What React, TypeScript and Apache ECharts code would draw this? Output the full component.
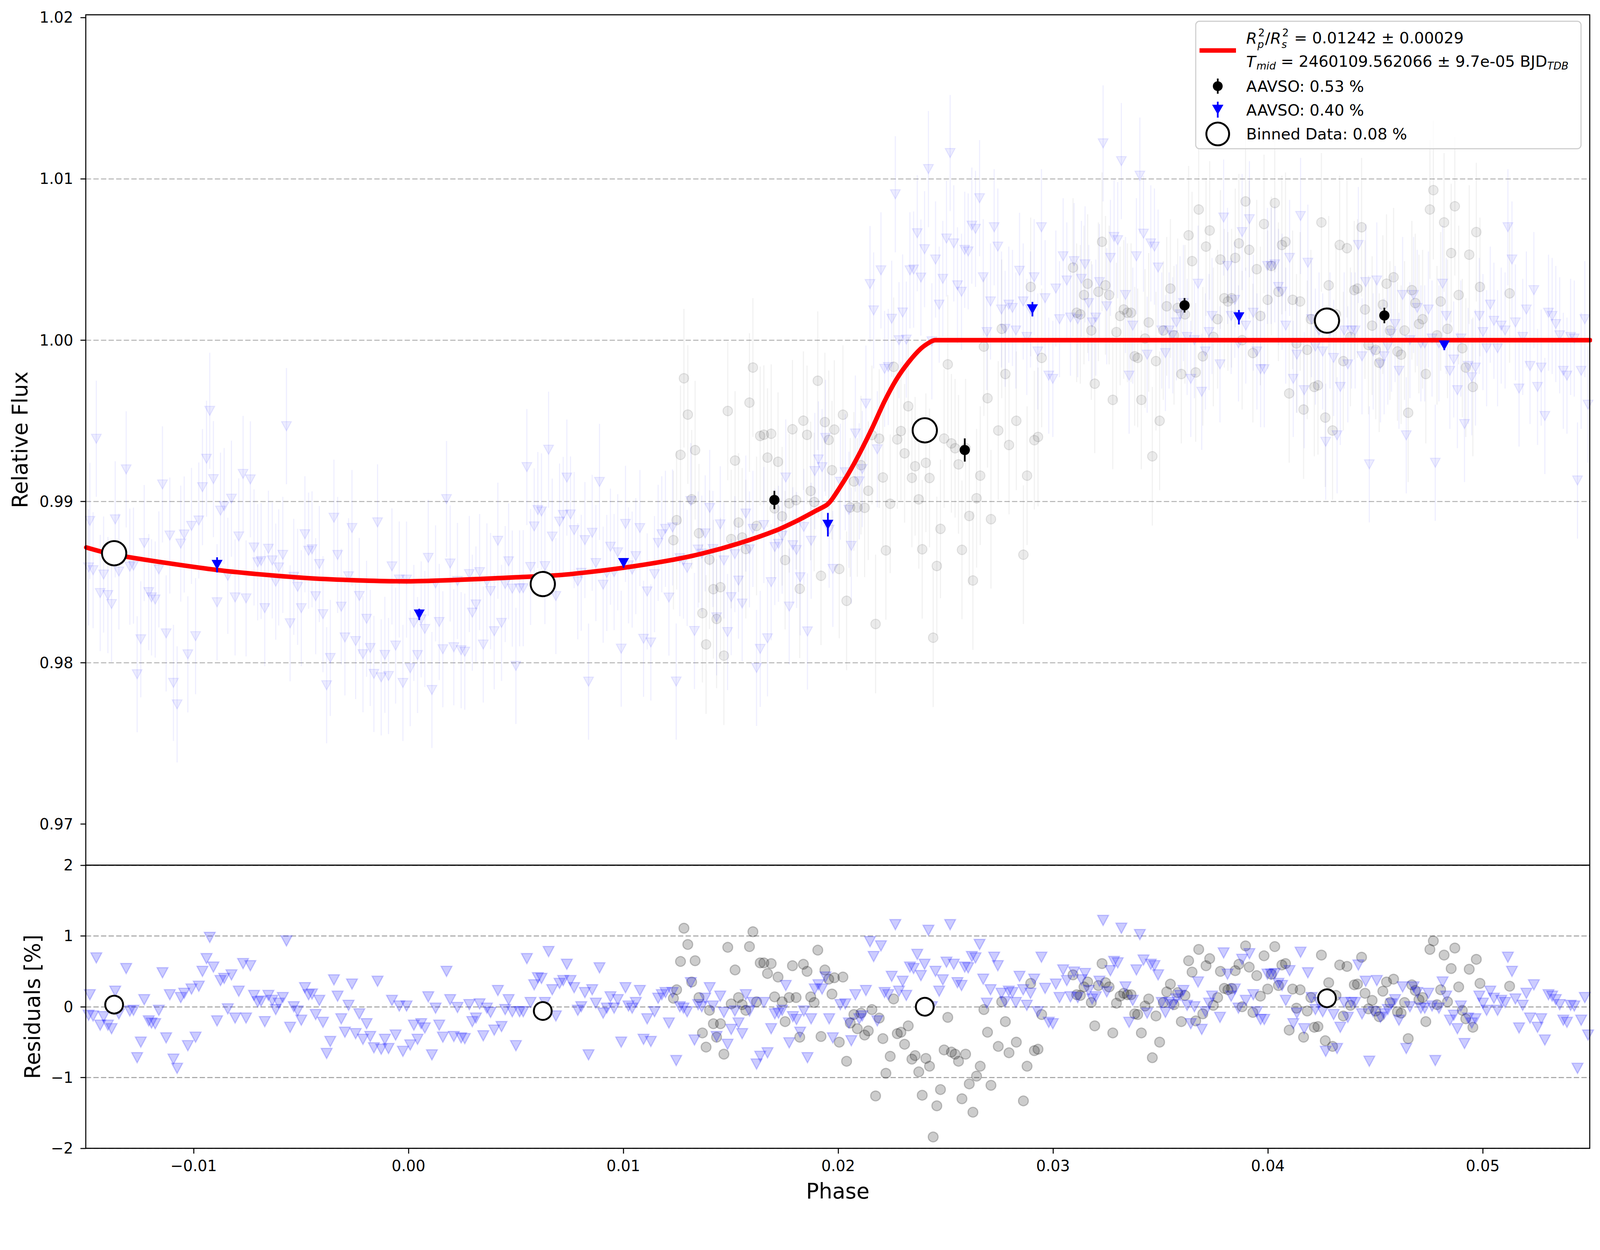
import React, { useEffect, useRef } from "react";
import * as echarts from "echarts";

// ---------- axes ----------
const X_MIN = -0.01502;
const X_MAX = 0.05498;
const FLUX_MIN = 0.96745;
const FLUX_MAX = 1.02017;
const RES_MIN = -2;
const RES_MAX = 2;
const xTicks = [-0.01, 0, 0.01, 0.02, 0.03, 0.04, 0.05];
const fluxTicks = [0.97, 0.98, 0.99, 1.0, 1.01, 1.02];
const resTicks = [-2, -1, 0, 1, 2];

// ---------- fitted transit model (phase, relative flux) ----------
const modelCurve: number[][] = [
  [-0.0150, 0.98715], [-0.0137, 0.98670], [-0.0089, 0.98575], [-0.0046, 0.98524],
  [-0.0002, 0.98505], [0.0057, 0.98534], [0.0075, 0.98549], [0.0100, 0.98589],
  [0.0120, 0.98631], [0.0137, 0.98678], [0.0154, 0.98741], [0.0171, 0.98820],
  [0.0182, 0.98888], [0.0190, 0.98945], [0.01945, 0.98977], [0.01968, 0.99008],
  [0.0200, 0.99071], [0.02047, 0.99171], [0.02103, 0.99307], [0.0216, 0.99460],
  [0.02216, 0.99622], [0.02272, 0.99759], [0.02328, 0.99864], [0.02385, 0.99948],
  [0.0243, 0.99990], [0.02452, 1.0], [0.0550, 1.0],
];

// ---------- AAVSO (blue, 0.40 %) : phase, residual [%] ----------
const blueResid: number[][] = [
  [-0.01483, 0.17], [-0.01489, -0.12], [-0.01468, -0.13], [-0.01453, 0.69], [-0.01435, -0.26],
  [-0.01419, -0.14], [-0.01399, -0.26], [-0.01382, -0.31], [-0.01365, 0.22], [-0.01348, -0.10],
  [-0.01314, 0.54], [-0.01297, -0.06], [-0.01280, -0.05], [-0.01263, -0.72], [-0.01246, -0.50],
  [-0.01230, 0.10], [-0.01209, -0.20], [-0.01196, -0.23], [-0.01179, -0.24], [-0.01162, -0.05],
  [-0.01145, 0.48], [-0.01128, -0.44], [-0.01111, 0.17], [-0.01094, -0.74], [-0.01077, -0.87],
  [-0.01060, 0.13], [-0.01044, 0.19], [-0.01027, -0.55], [-0.01010, 0.25], [-0.00991, -0.43],
  [-0.00976, 0.29], [-0.00959, 0.50], [-0.00940, 0.68], [-0.00925, 0.98], [-0.00908, 0.56],
  [-0.00891, -0.20], [-0.00875, 0.37], [-0.00858, 0.40], [-0.00841, -0.03], [-0.00824, 0.45],
  [-0.00807, -0.16], [-0.00790, 0.22], [-0.00770, 0.61], [-0.00756, -0.16], [-0.00736, 0.58],
  [-0.00719, 0.16], [-0.00702, 0.07], [-0.00686, 0.08], [-0.00669, -0.21], [-0.00652, 0.16],
  [-0.00634, 0.09], [-0.00618, -0.04], [-0.00604, 0.05], [-0.00585, 0.13], [-0.00568, 0.93],
  [-0.00551, -0.29], [-0.00534, 0.00], [-0.00516, -0.06], [-0.00499, -0.19], [-0.00482, 0.27],
  [-0.00465, 0.17], [-0.00449, 0.18], [-0.00432, -0.11], [-0.00415, 0.09], [-0.00398, -0.22],
  [-0.00381, -0.66], [-0.00364, -0.49], [-0.00347, 0.38], [-0.00330, 0.15], [-0.00313, -0.17],
  [-0.00296, -0.36], [-0.00279, 0.02], [-0.00263, 0.32], [-0.00246, -0.38], [-0.00229, -0.10],
  [-0.00212, -0.46], [-0.00195, -0.24], [-0.00178, -0.42], [-0.00161, -0.58], [-0.00144, 0.36],
  [-0.00127, -0.60], [-0.00110, -0.46], [-0.00093, -0.59], [-0.00077, 0.09], [-0.00060, -0.40],
  [-0.00043, 0.01], [-0.00026, -0.63], [-0.00009, 0.01], [0.00008, -0.54], [0.00025, -0.26],
  [0.00042, -0.46], [0.00059, -0.24], [0.00076, -0.30], [0.00092, 0.14], [0.00109, -0.68],
  [0.00126, -0.02], [0.00143, -0.26], [0.00160, -0.43], [0.00177, 0.50], [0.00194, 0.10],
  [0.00211, -0.42], [0.00228, -0.01], [0.00245, -0.44], [0.00262, -0.45],
  [0.00283, 0.03], [0.00297, -0.21], [0.00314, -0.16], [0.00331, 0.04], [0.00348, -0.41],
  [0.00365, -0.02], [0.00382, -0.08], [0.00399, -0.33], [0.00416, 0.23], [0.00433, -0.28],
  [0.00450, -0.04], [0.00466, 0.10], [0.00483, -0.07], [0.00500, -0.55], [0.00517, -0.07],
  [0.00534, -0.07], [0.00551, 0.68], [0.00568, 0.06], [0.00585, 0.31], [0.00602, 0.41],
  [0.00619, 0.40], [0.00635, 0.06], [0.00652, 0.78], [0.00669, 0.24], [0.00686, -0.13],
  [0.00703, 0.33], [0.00720, 0.37], [0.00737, 0.60], [0.00754, 0.37], [0.00771, 0.27],
  [0.00788, -0.05], [0.00804, 0.00], [0.00821, 0.20], [0.00838, -0.68], [0.00855, 0.24],
  [0.00872, 0.05], [0.00889, 0.55], [0.00906, -0.09], [0.00923, -0.02], [0.00940, 0.14],
  [0.00957, -0.02], [0.00974, 0.10], [0.00990, -0.50], [0.01010, 0.27], [0.01024, 0.01],
  [0.01041, -0.02], [0.01058, 0.06], [0.01077, 0.23], [0.01094, -0.46], [0.01111, -0.17],
  [0.01128, -0.49], [0.01145, -0.07], [0.01162, 0.12], [0.01179, 0.17], [0.01196, 0.20],
  [0.01212, -0.23], [0.01229, 0.20], [0.01246, -0.76], [0.01263, 0.00], [0.01280, -0.02],
  [0.01297, -0.07], [0.01314, 0.34], [0.01331, -0.47], [0.01348, 0.03], [0.01365, 0.00],
  [0.01381, 0.12], [0.01402, 0.27], [0.01417, 0.01], [0.01434, -0.42], [0.01451, 0.15],
  [0.01468, -0.08], [0.01485, -0.53], [0.01502, -0.32], [0.01519, -0.06], [0.01536, -0.23],
  [0.01553, -0.38], [0.01570, 0.17], [0.01587, -0.06], [0.01603, 0.06], [0.01620, -0.81],
  [0.01637, -0.70], [0.01654, 0.06], [0.01671, -0.65], [0.01688, -0.31], [0.01705, -0.10],
  [0.01722, -0.09], [0.01739, -0.05], [0.01756, 0.30], [0.01772, -0.51], [0.01789, -0.14],
  [0.01806, -0.18], [0.01823, -0.36], [0.01840, -0.06], [0.01857, -0.72], [0.01874, -0.17],
  [0.01891, 0.25], [0.01908, 0.31], [0.01925, 0.25], [0.01941, 0.42], [0.01958, -0.17],
  [0.01975, -0.44],
  [0.02010, 0.03], [0.02033, 0.04], [0.02050, -0.23], [0.02061, -0.48], [0.02080, 0.17],
  [0.02098, -0.17], [0.02112, -0.13], [0.02129, 0.23], [0.02148, 0.92], [0.02165, 0.71],
  [0.02182, -0.20], [0.02199, 0.86], [0.02216, 0.20], [0.02233, 0.17], [0.02249, 0.43],
  [0.02266, 1.16], [0.02283, 0.22], [0.02300, 0.36], [0.02317, 0.16], [0.02334, 0.56],
  [0.02351, 0.54], [0.02368, 0.74], [0.02385, 0.44], [0.02402, 0.60], [0.02420, 1.08],
  [0.02436, 0.00], [0.02453, 0.50], [0.02470, 0.22], [0.02487, 0.38], [0.02504, 0.63],
  [0.02521, 1.16], [0.02538, 0.60], [0.02555, 0.34], [0.02574, 0.30], [0.02589, 0.56],
  [0.02605, 0.55], [0.02622, 0.71], [0.02639, 0.69], [0.02658, 0.88], [0.02675, 0.39],
  [0.02692, 0.05], [0.02709, 0.24], [0.02726, 0.70], [0.02743, 0.58], [0.02760, 0.19],
  [0.02777, 0.07], [0.02794, 0.22], [0.02811, 0.20], [0.02827, 0.06], [0.02844, 0.43],
  [0.02861, 0.24], [0.02878, 0.02], [0.02895, 0.19], [0.02912, 0.39], [0.02929, -0.07],
  [0.02946, 0.70], [0.02963, 0.26], [0.02980, -0.22], [0.02999, -0.24], [0.03013, 0.32],
  [0.03030, 0.13], [0.03047, 0.52], [0.03064, 0.37], [0.03081, 0.14], [0.03098, 0.49],
  [0.03115, 0.13], [0.03132, 0.38], [0.03149, 0.47], [0.03166, 0.23], [0.03182, 0.11],
  [0.03199, 0.14], [0.03216, 0.36], [0.03233, 1.22], [0.03250, 0.21], [0.03267, 0.51],
  [0.03284, 0.64], [0.03301, 0.62], [0.03318, 1.11], [0.03337, 0.28], [0.03354, -0.22],
  [0.03371, 0.09], [0.03388, 0.52], [0.03404, 1.02], [0.03421, 0.66], [0.03438, -0.09],
  [0.03455, 0.60], [0.03472, 0.58], [0.03489, 0.45], [0.03506, 0.06], [0.03523, -0.08],
  [0.03540, 0.06], [0.03557, 0.03], [0.03574, 0.11], [0.03591, 0.16], [0.03607, 0.23],
  [0.03624, 0.02], [0.03641, -0.24], [0.03658, 0.00], [0.03675, 0.35], [0.03692, -0.32],
  [0.03709, -0.07], [0.03726, 0.05], [0.03740, 0.15],
  [0.03777, -0.15], [0.03794, 0.76], [0.03812, 0.46], [0.03829, 0.15], [0.03846, 0.25],
  [0.03863, -0.02], [0.03880, 0.67], [0.03897, 0.09], [0.03914, 0.75], [0.03932, 0.17],
  [0.03949, -0.07], [0.03966, -0.18], [0.03983, -0.18], [0.03998, 0.46], [0.04015, 0.46],
  [0.04032, 0.47], [0.04049, 0.33], [0.04066, 0.30], [0.04083, 0.09], [0.04101, 0.51],
  [0.04118, -0.24], [0.04135, -0.09], [0.04152, 0.77], [0.04169, -0.31], [0.04186, 0.48],
  [0.04203, 0.13], [0.04221, -0.04], [0.04238, 0.06], [0.04255, -0.07], [0.04269, -0.63],
  [0.04289, 0.06], [0.04306, -0.11], [0.04322, -0.59], [0.04337, -0.29], [0.04355, 0.06],
  [0.04372, -0.15], [0.04389, 0.06], [0.04406, 0.06], [0.04421, 0.59], [0.04438, -0.10],
  [0.04455, 0.36], [0.04472, -0.77], [0.04490, -0.07], [0.04507, 0.37], [0.04524, -0.15],
  [0.04541, -0.10], [0.04558, -0.04], [0.04575, 0.04], [0.04592, 0.10], [0.04610, -0.19],
  [0.04627, 0.28], [0.04644, -0.59], [0.04661, 0.00], [0.04678, 0.28], [0.04695, 0.20],
  [0.04712, -0.02], [0.04730, -0.02], [0.04747, 0.19], [0.04764, 0.01], [0.04779, -0.76],
  [0.04796, -0.02], [0.04813, 0.35], [0.04830, 0.15], [0.04847, -0.19], [0.04865, -0.12],
  [0.04882, -0.31], [0.04898, 0.01], [0.04915, -0.52], [0.04932, -0.16], [0.04949, -0.23],
  [0.04966, -0.17], [0.04984, 0.15], [0.05001, 0.05], [0.05018, -0.05], [0.05035, 0.22],
  [0.05052, 0.12], [0.05069, -0.05], [0.05086, 0.09], [0.05104, 0.06], [0.05117, 0.70],
  [0.05136, 0.50], [0.05152, 0.11], [0.05169, -0.30], [0.05186, 0.02], [0.05203, 0.19],
  [0.05220, -0.16], [0.05238, 0.31], [0.05255, -0.29], [0.05272, -0.17], [0.05289, -0.47],
  [0.05306, 0.17], [0.05323, 0.15], [0.05340, 0.10], [0.05358, 0.03], [0.05375, -0.19],
  [0.05392, -0.22], [0.05409, 0.02], [0.05426, 0.01], [0.05441, -0.87], [0.05458, -0.19],
  [0.05475, 0.13], [0.05490, -0.40],
];

// ---------- AAVSO (black, 0.53 %) : phase, residual [%] ----------
const blackResid: number[][] = [
  [0.01282, 1.11], [0.01300, 0.88], [0.01266, 0.64], [0.01334, 0.65], [0.01248, 0.24],
  [0.01233, 0.12], [0.01318, 0.35], [0.01352, 0.13], [0.01401, -0.05], [0.01419, -0.24],
  [0.01452, -0.24], [0.01368, -0.37], [0.01434, -0.43], [0.01385, -0.57], [0.01468, -0.67],
  [0.01486, 0.84], [0.01520, 0.52], [0.01502, 0.04], [0.01536, 0.13], [0.01553, 0.03],
  [0.01570, -0.05], [0.01587, 0.85], [0.01603, 1.06], [0.01620, 0.07], [0.01637, 0.62],
  [0.01654, 0.62], [0.01671, 0.47], [0.01688, 0.61], [0.01704, 0.14], [0.01720, 0.42],
  [0.01739, 0.07], [0.01753, -0.21], [0.01772, 0.13], [0.01787, 0.58], [0.01804, 0.13],
  [0.01821, -0.43], [0.01838, 0.60], [0.01855, 0.50], [0.01872, 0.14], [0.01888, 0.06],
  [0.01905, 0.80], [0.01920, -0.42], [0.01938, 0.52], [0.01956, 0.39], [0.01971, 0.18],
  [0.01982, 0.41],
  [0.02022, 0.42], [0.02005, -0.50], [0.02039, -0.77], [0.02056, -0.23], [0.02073, -0.11],
  [0.02089, -0.31], [0.02106, -0.09], [0.02123, -0.40], [0.02140, -0.34], [0.02157, -0.04],
  [0.02174, -1.26], [0.02191, -0.16], [0.02208, -0.45], [0.02222, -0.94], [0.02242, -0.70],
  [0.02258, 0.11], [0.02275, -0.38], [0.02292, -0.36], [0.02309, -0.53], [0.02326, -0.27],
  [0.02343, -0.74], [0.02358, -0.69], [0.02375, -0.92], [0.02391, -1.25], [0.02408, -0.73],
  [0.02425, -0.84], [0.02442, -1.84], [0.02459, -1.40], [0.02476, -1.17], [0.02493, -0.61],
  [0.02510, -0.15], [0.02527, -0.64], [0.02544, -0.67], [0.02560, -0.77], [0.02576, -1.30],
  [0.02593, -0.67], [0.02610, -1.09], [0.02627, -1.49], [0.02644, -0.98], [0.02661, -0.84],
  [0.02678, -0.04], [0.02695, -0.36], [0.02711, -1.11], [0.02745, -0.56], [0.02761, 0.07],
  [0.02778, -0.21], [0.02795, -0.65], [0.02829, -0.50], [0.02862, -1.33], [0.02879, -0.84],
  [0.02896, 0.33], [0.02913, -0.62], [0.02930, -0.60], [0.02947, -0.11], [0.03093, 0.45],
  [0.03110, 0.17], [0.03127, 0.16], [0.03144, 0.28], [0.03161, 0.35], [0.03178, 0.06],
  [0.03194, -0.27], [0.03211, 0.30], [0.03228, 0.61], [0.03244, 0.34], [0.03261, 0.28],
  [0.03278, -0.37], [0.03295, 0.05], [0.03312, 0.15], [0.03329, 0.19], [0.03346, 0.17],
  [0.03363, 0.17], [0.03380, -0.10], [0.03394, -0.11], [0.03411, -0.37], [0.03428, 0.01],
  [0.03445, 0.11], [0.03462, -0.72], [0.03479, -0.13], [0.03496, -0.50], [0.03513, 0.06],
  [0.03529, 0.21], [0.03546, 0.32], [0.03563, 0.03], [0.03580, 0.20], [0.03597, -0.21],
  [0.03614, 0.16], [0.03631, 0.65], [0.03647, 0.49], [0.03664, -0.20], [0.03678, 0.81],
  [0.03697, -0.10], [0.03712, 0.58], [0.03729, 0.68], [0.03746, 0.02],
  [0.03766, 0.13], [0.03779, 0.50], [0.03797, 0.26], [0.03814, 0.24], [0.03831, 0.26],
  [0.03848, 0.51], [0.03865, 0.60], [0.03880, 0.00], [0.03896, 0.86], [0.03913, 0.56],
  [0.03930, -0.08], [0.03948, 0.44], [0.03965, 0.15], [0.03982, 0.72], [0.03999, 0.25],
  [0.04016, 0.46], [0.04032, 0.85], [0.04049, 0.30], [0.04065, 0.59], [0.04082, 0.61],
  [0.04099, -0.33], [0.04115, 0.25], [0.04133, -0.02], [0.04150, 0.24], [0.04166, -0.43],
  [0.04183, -0.06], [0.04200, 0.13], [0.04216, -0.29], [0.04233, -0.28], [0.04249, 0.73],
  [0.04267, -0.48], [0.04283, 0.34], [0.04301, -0.56], [0.04317, 0.16], [0.04334, 0.59],
  [0.04351, -0.13], [0.04368, 0.57], [0.04384, 0.02], [0.04402, 0.31], [0.04417, 0.32],
  [0.04436, 0.70], [0.04452, 0.19], [0.04468, -0.03], [0.04485, 0.09], [0.04502, -0.06],
  [0.04518, -0.14], [0.04535, 0.22], [0.04552, 0.35], [0.04568, 0.06], [0.04585, 0.39],
  [0.04603, -0.07], [0.04620, -0.09], [0.04636, 0.06], [0.04653, -0.45], [0.04670, 0.31],
  [0.04686, 0.23], [0.04703, 0.10], [0.04720, 0.13], [0.04735, -0.21], [0.04754, 0.81],
  [0.04770, 0.93], [0.04787, 0.03], [0.04804, 0.24], [0.04820, 0.73], [0.04836, 0.07],
  [0.04853, 0.54], [0.04870, 0.83], [0.04888, 0.28], [0.04905, -0.05], [0.04921, -0.17],
  [0.04937, 0.53], [0.04954, -0.29], [0.04970, 0.67], [0.04987, 0.33], [0.05125, 0.29],
];

// typical 1-sigma flux error of a single point
const blueErr = 0.0036;
const blackErr = 0.0043;

// ---------- binned points ----------
const blackBinPhase = [0.01703, 0.02589, 0.03612, 0.04542];
const blackBinFlux = [0.99009, 0.99319, 1.00216, 1.00153];
const blackBinErr = [0.00057, 0.00072, 0.00045, 0.00048];
const blueBinPhase = [-0.00891, 0.0005, 0.01001, 0.01952, 0.02904, 0.03865, 0.04821];
const blueBinFlux = [0.98607, 0.983, 0.98619, 0.98856, 1.00192, 1.00142, 0.99968];
const blueBinErr = [0.00047, 0.00035, 0.0003, 0.00073, 0.00045, 0.00045, 0.0003];
const binPhase = [-0.0137, 0.00625, 0.02403, 0.04275];
const binFlux = [0.98679, 0.98488, 0.99441, 1.00121];
const binResid = [0.03, -0.06, 0.0, 0.12];

// ---------- texts ----------
const legendPlain = ["AAVSO: 0.53 %", "AAVSO: 0.40 %", "Binned Data: 0.08 %"];

const FONT = '"DejaVu Sans", "Noto Sans", sans-serif';
const PAGE_W = 4215;
const PAGE_H = 3201;

function modelAt(p: number): number {
  const c = modelCurve;
  if (p <= c[0][0]) return c[0][1];
  for (let i = 1; i < c.length; i++) {
    if (p <= c[i][0]) {
      const t = (p - c[i - 1][0]) / (c[i][0] - c[i - 1][0]);
      return c[i - 1][1] + t * (c[i][1] - c[i - 1][1]);
    }
  }
  return c[c.length - 1][1];
}

function minusFmt(v: number, d: number): string {
  const s = Math.abs(v).toFixed(d);
  return v < -1e-9 ? "\u2212" + s : s;
}

let measureCtx: CanvasRenderingContext2D | null = null;
function tw(text: string, font: string): number {
  if (!measureCtx) measureCtx = document.createElement("canvas").getContext("2d");
  if (!measureCtx) return text.length * 20;
  measureCtx.font = font;
  return measureCtx.measureText(text).width;
}

function errBarSeries(name: string, xi: number, data: number[][], color: string, width: number, z: number) {
  return {
    name,
    type: "custom",
    xAxisIndex: xi,
    yAxisIndex: xi,
    silent: true,
    clip: true,
    z,
    encode: { x: 0, y: 1 },
    data,
    renderItem: (_params: any, api: any) => {
      const x = api.value(0);
      const y = api.value(1);
      const e = api.value(2);
      const a = api.coord([x, y - e]);
      const b = api.coord([x, y + e]);
      return {
        type: "line",
        shape: { x1: a[0], y1: a[1], x2: b[0], y2: b[1] },
        style: { stroke: color, lineWidth: width },
      };
    },
  };
}

function txt(text: string, x: number, y: number, size: number, italic: boolean, align = "left") {
  return {
    type: "text",
    z: 101,
    style: {
      text,
      x,
      y,
      font: `${italic ? "italic " : ""}${size}px ${FONT}`,
      fontSize: size,
      fontStyle: italic ? "italic" : "normal",
      fontFamily: FONT,
      fill: "#000",
      align,
      textAlign: align,
      verticalAlign: "middle",
      textVerticalAlign: "middle",
    },
  };
}

function buildLegend(): any[] {
  const els: any[] = [];
  const bx = 3150, by = 56, bw = 1015, bh = 336;
  els.push({
    type: "rect",
    z: 100,
    shape: { x: bx, y: by, width: bw, height: bh, r: 10 },
    style: { fill: "rgba(255,255,255,0.8)", stroke: "#cccccc", lineWidth: 2.7 },
  });
  const mx = 3208;
  els.push({
    type: "line",
    z: 101,
    shape: { x1: 3160, y1: 133, x2: 3256, y2: 133 },
    style: { stroke: "#ff0000", lineWidth: 12 },
  });
  els.push({ type: "line", z: 101, shape: { x1: mx, y1: 207, x2: mx, y2: 247 }, style: { stroke: "#000", lineWidth: 4.5 } });
  els.push({ type: "circle", z: 102, shape: { cx: mx, cy: 227, r: 13 }, style: { fill: "#000" } });
  els.push({ type: "line", z: 101, shape: { x1: mx, y1: 268, x2: mx, y2: 310 }, style: { stroke: "#0000ff", lineWidth: 4.5 } });
  els.push({
    type: "polygon",
    z: 102,
    shape: { points: [[mx - 15, 276], [mx + 15, 276], [mx, 302]] },
    style: { fill: "#0000ff" },
  });
  els.push({ type: "circle", z: 102, shape: { cx: mx, cy: 353, r: 30 }, style: { fill: "#fff", stroke: "#000", lineWidth: 5 } });

  const tx = 3283;
  let x = tx;
  const big = 41, small = 27;
  const supY = 86, subY = 117;
  els.push(txt("R", x, 101, big, true));
  x += tw("R", `italic ${big}px ${FONT}`);
  els.push(txt("2", x + 3, supY, small, false));
  els.push(txt("p", x + 1, subY, small, true));
  x += Math.max(tw("p", `italic ${small}px ${FONT}`) + 1, tw("2", `${small}px ${FONT}`) + 3) + 1;
  els.push(txt("/", x, 101, big, false));
  x += tw("/", `${big}px ${FONT}`);
  els.push(txt("R", x, 101, big, true));
  x += tw("R", `italic ${big}px ${FONT}`);
  els.push(txt("2", x + 3, supY, small, false));
  els.push(txt("s", x + 1, subY, small, true));
  x += Math.max(tw("s", `italic ${small}px ${FONT}`) + 1, tw("2", `${small}px ${FONT}`) + 3) + 1;
  els.push(txt(" = 0.01242 \u00b1 0.00029", x, 100, big, false));

  x = tx;
  els.push(txt("T", x, 163, big, true));
  x += tw("T", `italic ${big}px ${FONT}`) + 2;
  els.push(txt("mid", x, 174, small, true));
  x += tw("mid", `italic ${small}px ${FONT}`);
  const mainL2 = " = 2460109.562066 \u00b1 9.7e-05 BJD";
  els.push(txt(mainL2, x, 162, big, false));
  x += tw(mainL2, `${big}px ${FONT}`);
  els.push(txt("TDB", x, 174, small, true));

  els.push(txt(legendPlain[0], tx, 227, big, false));
  els.push(txt(legendPlain[1], tx, 290, big, false));
  els.push(txt(legendPlain[2], tx, 353, big, false));
  return els;
}

function pageScale(): number {
  if (typeof window === "undefined") return 1;
  const w = window.innerWidth || PAGE_W;
  const h = window.innerHeight || PAGE_H;
  return Math.min(1, w / PAGE_W, h / PAGE_H);
}

export default function App() {
  const ref = useRef<HTMLDivElement>(null);
  const s = pageScale();

  useEffect(() => {
    document.body.style.margin = "0";
    document.body.style.overflow = "hidden";
    if (!ref.current) return;
    const chart = echarts.init(ref.current, undefined, { renderer: "svg", width: PAGE_W, height: PAGE_H });

    const blueTop = blueResid.map(([p, r]) => [p, modelAt(p) + r / 100, blueErr]);
    const blackTop = blackResid.map(([p, r]) => [p, modelAt(p) + r / 100, blackErr]);
    const blackBin = blackBinPhase.map((p, i) => [p, blackBinFlux[i], blackBinErr[i]]);
    const blueBin = blueBinPhase.map((p, i) => [p, blueBinFlux[i], blueBinErr[i]]);
    const binTop = binPhase.map((p, i) => [p, binFlux[i]]);
    const binRes = binPhase.map((p, i) => [p, binResid[i]]);

    const tickStyle = { show: true, inside: false, length: 14, lineStyle: { color: "#000", width: 2.7 } };
    const labelBase = { color: "#000", fontSize: 40, fontFamily: FONT };
    const noLine = { show: false, onZero: false };

    const option: any = {
      animation: false,
      backgroundColor: "#ffffff",
      grid: [
        { left: 226, top: 39, width: 3962, height: 2241, show: true, borderColor: "#000", borderWidth: 2.7, backgroundColor: "transparent", containLabel: false, outerBoundsMode: "none", z: 10 },
        { left: 226, top: 2280, width: 3962, height: 746, show: true, borderColor: "#000", borderWidth: 2.7, backgroundColor: "transparent", containLabel: false, outerBoundsMode: "none", z: 10 },
      ],
      xAxis: [
        {
          type: "value", gridIndex: 0, min: X_MIN, max: X_MAX, position: "bottom",
          axisLine: noLine, axisTick: { show: false }, axisLabel: { show: false }, splitLine: { show: false },
        },
        {
          type: "value", gridIndex: 1, min: X_MIN, max: X_MAX, position: "bottom",
          axisLine: noLine,
          axisTick: { ...tickStyle, customValues: xTicks },
          axisLabel: { ...labelBase, margin: 26, customValues: xTicks, formatter: (v: number) => minusFmt(v, 2) },
          splitLine: { show: false },
        },
      ],
      yAxis: [
        {
          type: "value", gridIndex: 0, min: FLUX_MIN, max: FLUX_MAX, position: "left",
          axisLine: noLine,
          axisTick: { ...tickStyle, customValues: fluxTicks },
          axisLabel: { ...labelBase, margin: 33, customValues: fluxTicks, formatter: (v: number) => v.toFixed(2) },
          splitLine: { show: true, showMinLine: false, showMaxLine: false, lineStyle: { color: "#b3b3b3", width: 2.7, type: [14, 6] } },
        },
        {
          type: "value", gridIndex: 1, min: RES_MIN, max: RES_MAX, interval: 1, position: "left",
          axisLine: noLine,
          axisTick: { ...tickStyle, customValues: resTicks },
          axisLabel: { ...labelBase, margin: 33, customValues: resTicks, formatter: (v: number) => minusFmt(v, 0) },
          splitLine: { show: true, lineStyle: { color: "#a6a6a6", width: 2.7, type: [14, 6] } },
        },
      ],
      graphic: [
        {
          type: "text", z: 50,
          rotation: Math.PI / 2, x: 52, y: 1159,
          style: { text: "Relative Flux", font: `56px ${FONT}`, fontSize: 56, fontFamily: FONT, fill: "#000", align: "center", textAlign: "center", verticalAlign: "middle", textVerticalAlign: "middle" },
        },
        {
          type: "text", z: 50,
          rotation: Math.PI / 2, x: 85, y: 2653,
          style: { text: "Residuals [%]", font: `56px ${FONT}`, fontSize: 56, fontFamily: FONT, fill: "#000", align: "center", textAlign: "center", verticalAlign: "middle", textVerticalAlign: "middle" },
        },
        {
          type: "text", z: 50, x: 2207, y: 3139,
          style: { text: "Phase", font: `56px ${FONT}`, fontSize: 56, fontFamily: FONT, fill: "#000", align: "center", textAlign: "center", verticalAlign: "middle", textVerticalAlign: "middle" },
        },
        ...buildLegend(),
      ],
      series: [
        errBarSeries("blue errors", 0, blueTop, "rgba(0,0,255,0.065)", 3, 1),
        errBarSeries("black errors", 0, blackTop, "rgba(0,0,0,0.055)", 3, 1),
        {
          name: "AAVSO 0.40 faint", type: "scatter", xAxisIndex: 0, yAxisIndex: 0, z: 2, silent: true,
          symbol: "triangle", symbolRotate: 180, symbolSize: [26, 24],
          itemStyle: { color: "rgba(0,0,255,0.07)", borderColor: "rgba(0,0,255,0.09)", borderWidth: 2.5, opacity: 1 },
          data: blueTop.map((d) => [d[0], d[1]]),
        },
        {
          name: "AAVSO 0.53 faint", type: "scatter", xAxisIndex: 0, yAxisIndex: 0, z: 2, silent: true,
          symbol: "circle", symbolSize: 25,
          itemStyle: { color: "rgba(0,0,0,0.08)", borderColor: "rgba(0,0,0,0.1)", borderWidth: 2.5, opacity: 1 },
          data: blackTop.map((d) => [d[0], d[1]]),
        },
        {
          name: "model", type: "line", xAxisIndex: 0, yAxisIndex: 0, z: 3, silent: true,
          showSymbol: false, smooth: 0.25,
          lineStyle: { color: "#ff0000", width: 12, join: "round", cap: "round" },
          data: modelCurve,
        },
        errBarSeries("black bin errors", 0, blackBin, "#000000", 4.5, 4),
        errBarSeries("blue bin errors", 0, blueBin, "#0000ff", 4.5, 4),
        {
          name: "AAVSO: 0.53 %", type: "scatter", xAxisIndex: 0, yAxisIndex: 0, z: 5, silent: true,
          symbol: "circle", symbolSize: 27, itemStyle: { color: "#000", opacity: 1 },
          data: blackBin.map((d) => [d[0], d[1]]),
        },
        {
          name: "AAVSO: 0.40 %", type: "scatter", xAxisIndex: 0, yAxisIndex: 0, z: 5, silent: true,
          symbol: "triangle", symbolRotate: 180, symbolSize: [29, 26], itemStyle: { color: "#0000ff", opacity: 1 },
          data: blueBin.map((d) => [d[0], d[1]]),
        },
        {
          name: "Binned Data: 0.08 %", type: "scatter", xAxisIndex: 0, yAxisIndex: 0, z: 6, silent: true,
          symbol: "circle", symbolSize: 64,
          itemStyle: { color: "#ffffff", borderColor: "#000", borderWidth: 5, opacity: 1 },
          data: binTop,
        },
        {
          name: "res black", type: "scatter", xAxisIndex: 1, yAxisIndex: 1, z: 2, silent: true,
          symbol: "circle", symbolSize: 26,
          itemStyle: { color: "rgba(0,0,0,0.2)", borderColor: "rgba(0,0,0,0.22)", borderWidth: 3, opacity: 1 },
          data: blackResid,
        },
        {
          name: "res blue", type: "scatter", xAxisIndex: 1, yAxisIndex: 1, z: 2, silent: true,
          symbol: "triangle", symbolRotate: 180, symbolSize: [29, 27],
          itemStyle: { color: "rgba(0,0,255,0.2)", borderColor: "rgba(0,0,255,0.2)", borderWidth: 3, opacity: 1 },
          data: blueResid,
        },
        {
          name: "res binned", type: "scatter", xAxisIndex: 1, yAxisIndex: 1, z: 6, silent: true,
          symbol: "circle", symbolSize: 47,
          itemStyle: { color: "#ffffff", borderColor: "#000", borderWidth: 5, opacity: 1 },
          data: binRes,
        },
      ],
    };

    chart.setOption(option);
    return () => {
      chart.dispose();
    };
  }, []);

  return (
    <div style={{ width: `${PAGE_W * s}px`, height: `${PAGE_H * s}px`, overflow: "hidden" }}>
      <div
        ref={ref}
        style={{ width: `${PAGE_W}px`, height: `${PAGE_H}px`, transform: `scale(${s})`, transformOrigin: "0 0" }}
      />
    </div>
  );
}
